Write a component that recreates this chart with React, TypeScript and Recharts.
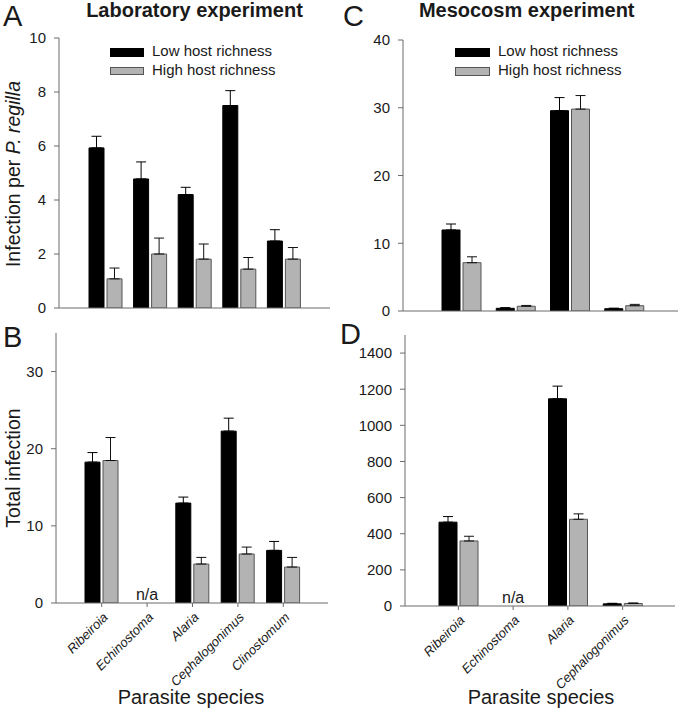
import React from 'react';
import { BarChart, Bar, XAxis, YAxis, ErrorBar, Legend } from 'recharts';

const labSpecies = ['Ribeiroia', 'Echinostoma', 'Alaria', 'Cephalogonimus', 'Clinostomum'];
const mesoSpecies = ['Ribeiroia', 'Echinostoma', 'Alaria', 'Cephalogonimus'];

// A: lab, infection per P. regilla
const labPerLow = [5.93, 4.78, 4.2, 7.5, 2.48];
const labPerLowSe = [0.43, 0.63, 0.27, 0.55, 0.42];
const labPerHigh = [1.08, 2.0, 1.81, 1.44, 1.81];
const labPerHighSe = [0.4, 0.59, 0.56, 0.43, 0.43];

// B: lab, total infection (Echinostoma n/a)
const labTotLow = [18.26, null, 12.95, 22.28, 6.82];
const labTotLowSe = [1.24, null, 0.78, 1.68, 1.16];
const labTotHigh = [18.47, null, 5.05, 6.35, 4.66];
const labTotHighSe = [2.98, null, 0.86, 0.9, 1.25];

// C: mesocosm, infection per P. regilla
const mesoPerLow = [11.96, 0.4, 29.57, 0.34];
const mesoPerLowSe = [0.88, 0.1, 1.93, 0.08];
const mesoPerHigh = [7.13, 0.7, 29.8, 0.78];
const mesoPerHighSe = [0.87, 0.12, 2.0, 0.2];

// D: mesocosm, total infection (Echinostoma n/a)
const mesoTotLow = [464, null, 1147, 12];
const mesoTotLowSe = [31, null, 70, 3];
const mesoTotHigh = [360, null, 480, 14];
const mesoTotHighSe = [26, null, 30, 3];

const ticksA = [0, 2, 4, 6, 8, 10];
const ticksB = [0, 10, 20, 30];
const ticksC = [0, 10, 20, 30, 40];
const ticksD = [0, 200, 400, 600, 800, 1000, 1200, 1400];

const seriesNames = ['Low host richness', 'High host richness'];
const FONT = '"Liberation Sans", Arial, sans-serif';
const AXIS = '#6b6b6b';
const TXT = '#1a1a1a';
const LOW_FILL = '#000000';
const HIGH_FILL = '#b3b3b3';
const HIGH_STROKE = '#555555';

function build(cats: string[], low: any[], lowSe: any[], high: any[], highSe: any[]) {
  return cats.map((cat, i) => ({
    cat,
    low: low[i],
    lowErr: low[i] == null ? null : [0, lowSe[i]],
    high: high[i],
    highErr: high[i] == null ? null : [0, highSe[i]],
  }));
}

const dataA = build(labSpecies, labPerLow, labPerLowSe, labPerHigh, labPerHighSe);
const dataB = build(labSpecies, labTotLow, labTotLowSe, labTotHigh, labTotHighSe);
const dataC = build(mesoSpecies, mesoPerLow, mesoPerLowSe, mesoPerHigh, mesoPerHighSe);
const dataD = build(mesoSpecies, mesoTotLow, mesoTotLowSe, mesoTotHigh, mesoTotHighSe);

function SpeciesTick({ x, y, payload, data }: any) {
  const row = data.find((d: any) => d.cat === payload.value);
  const ax = x + 7;
  const ay = y + 9;
  return (
    <g>
      <text
        x={ax}
        y={ay}
        transform={`rotate(-45, ${ax}, ${ay})`}
        textAnchor="end"
        fontStyle="italic"
        fontSize={13}
        fontFamily={FONT}
        fill={TXT}
      >
        {payload.value}
      </text>
      {row && row.low == null && (
        <text x={x} y={y - 9} textAnchor="middle" fontSize={16} fontFamily={FONT} fill={TXT}>
          n/a
        </text>
      )}
    </g>
  );
}

function HostLegend({ payload, swatchW, swatchH }: any) {
  if (!payload) return null;
  const items = [...payload].sort(
    (a: any, b: any) => seriesNames.indexOf(a.value) - seriesNames.indexOf(b.value)
  );
  return (
    <div style={{ fontFamily: FONT, fontSize: 15, color: TXT }}>
      {items.map((entry: any, i: number) => (
        <div key={i} style={{ display: 'flex', height: 18.7, lineHeight: '18.7px', whiteSpace: 'nowrap' }}>
          <span
            style={{
              display: 'inline-block',
              boxSizing: 'border-box',
              width: swatchW,
              height: swatchH,
              marginTop: 6,
              marginRight: 8,
              background: entry.color,
              border: `1px solid ${i === 0 ? '#000' : HIGH_STROKE}`,
            }}
          />
          <span>{entry.value}</span>
        </div>
      ))}
    </div>
  );
}

function Panel({ data, left, top, width, height, margin, yWidth, xHeight, xPad, domain, ticks, barSize, names, legend }: any) {
  return (
    <div style={{ position: 'absolute', left, top, width, height }}>
      <BarChart width={width} height={height} data={data} margin={margin} barGap={3}>
        <XAxis
          dataKey="cat"
          height={xHeight}
          padding={xPad}
          stroke={AXIS}
          tickSize={4}
          tickMargin={2}
          interval={0}
          tick={names ? (p: any) => <SpeciesTick {...p} data={data} /> : false}
        />
        <YAxis
          width={yWidth}
          domain={domain}
          ticks={ticks}
          allowDataOverflow
          stroke={AXIS}
          tickSize={5}
          tickMargin={8}
          tick={{ fontSize: 15, fill: TXT, fontFamily: FONT }}
        />
        {legend && (
          <Legend
            layout="vertical"
            align="center"
            verticalAlign="middle"
            itemSorter={null as any}
            wrapperStyle={{ position: 'absolute', left: legend.left, top: legend.top, width: 'auto' }}
            content={<HostLegend swatchW={legend.w} swatchH={legend.h} />}
          />
        )}
        <Bar dataKey="low" name={seriesNames[0]} fill={LOW_FILL} stroke="#000" barSize={barSize} isAnimationActive={false}>
          <ErrorBar dataKey="lowErr" width={5} stroke="#000" strokeWidth={1} direction="y" isAnimationActive={false} />
        </Bar>
        <Bar dataKey="high" name={seriesNames[1]} fill={HIGH_FILL} stroke={HIGH_STROKE} barSize={barSize} isAnimationActive={false}>
          <ErrorBar dataKey="highErr" width={5} stroke="#111" strokeWidth={1} direction="y" isAnimationActive={false} />
        </Bar>
      </BarChart>
    </div>
  );
}

export default function App() {
  return (
    <div style={{ position: 'absolute', left: 0, top: 0, width: 680, height: 713, background: '#fff', fontFamily: FONT }}>
      <Panel
        data={dataA} left={0} top={0} width={340} height={320}
        margin={{ top: 38, right: 10, bottom: 0, left: 0 }}
        yWidth={59} xHeight={12} xPad={{ left: 24, right: 24 }}
        domain={[0, 10]} ticks={ticksA} barSize={15} names={false}
        legend={{ left: 110, top: 42, w: 34, h: 8.5 }}
      />
      <Panel
        data={dataB} left={0} top={320} width={340} height={393}
        margin={{ top: 13, right: 12, bottom: 0, left: 0 }}
        yWidth={56} xHeight={110} xPad={{ left: 23, right: 22 }}
        domain={[0, 35]} ticks={ticksB} barSize={15} names
      />
      <Panel
        data={dataC} left={340} top={0} width={340} height={320}
        margin={{ top: 40, right: 2, bottom: 0, left: 0 }}
        yWidth={63} xHeight={9} xPad={{ left: 31, right: 27 }}
        domain={[0, 40]} ticks={ticksC} barSize={18} names={false}
        legend={{ left: 115, top: 42, w: 35, h: 9 }}
      />
      <Panel
        data={dataD} left={340} top={320} width={340} height={393}
        margin={{ top: 15, right: 5, bottom: 0, left: 0 }}
        yWidth={65} xHeight={107} xPad={{ left: 26, right: 25 }}
        domain={[0, 1500]} ticks={ticksD} barSize={18} names
      />
      <svg width={680} height={713} style={{ position: 'absolute', left: 0, top: 0, pointerEvents: 'none' }}>
        <g fontFamily={FONT} fill={TXT}>
          <text x={3} y={26} fontSize={29}>A</text>
          <text x={343} y={26} fontSize={29}>C</text>
          <text x={3} y={347} fontSize={29}>B</text>
          <text x={340} y={344} fontSize={29}>D</text>
          <text x={194.5} y={17} fontSize={20} fontWeight="bold" textAnchor="middle">Laboratory experiment</text>
          <text x={526.7} y={17} fontSize={20} fontWeight="bold" textAnchor="middle">Mesocosm experiment</text>
          <text transform="translate(19.5,174) rotate(-90)" fontSize={19.5} textAnchor="middle">
            Infection per <tspan fontStyle="italic">P. regilla</tspan>
          </text>
          <text transform="translate(19.5,468) rotate(-90)" fontSize={19.5} textAnchor="middle">Total infection</text>
          <text x={191} y={704} fontSize={20} textAnchor="middle">Parasite species</text>
          <text x={541} y={704} fontSize={20} textAnchor="middle">Parasite species</text>
        </g>
      </svg>
    </div>
  );
}
